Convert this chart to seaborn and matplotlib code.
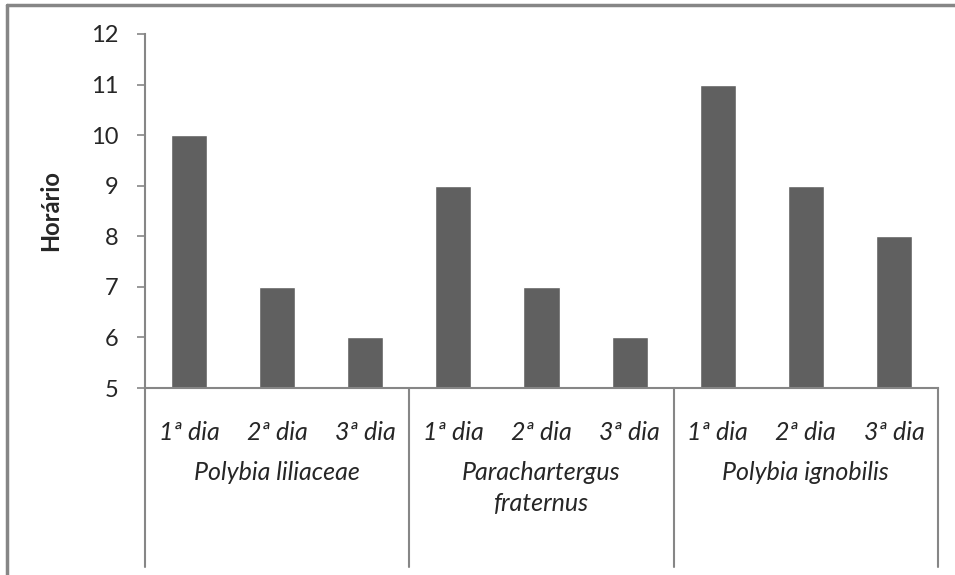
import pandas as pd
import matplotlib.pyplot as plt
import matplotlib.transforms as mtransforms
import seaborn as sns

species = ['Polybia liliaceae', 'Parachartergus\nfraternus', 'Polybia ignobilis']
days = ['1ª dia', '2ª dia', '3ª dia']
horario = [10, 7, 6, 9, 7, 6, 11, 9, 8]

rows = []
for i, sp in enumerate(species):
    for j, d in enumerate(days):
        rows.append({'key': f'{i}-{j}', 'especie': sp, 'dia': d, 'horario': horario[i * 3 + j]})
df = pd.DataFrame(rows)

sns.set_style('white')
plt.rcParams['font.family'] = ['Lato', 'DejaVu Sans']

grey = '#868686'
fig = plt.figure(figsize=(9.55, 5.75), dpi=100)
ax = fig.add_axes([0.1518, 0.3252, 0.8304, 0.6157])

sns.barplot(data=df, x='key', y='horario', color='#606060', saturation=1,
            width=0.41, ax=ax)

ax.set_ylim(5, 12)
ax.set_yticks(range(5, 13))
ax.set_xlim(-0.5, len(df) - 0.5)
ax.set_xticks(range(len(df)))
ax.set_xticklabels(df['dia'], style='italic', fontsize=18)
ax.tick_params(axis='x', length=0, pad=24)
ax.tick_params(axis='y', length=6, width=1.2, color=grey, labelsize=17, pad=13, left=True)
ax.set_xlabel('')
ax.set_ylabel('Horário', fontsize=17, fontweight='bold', labelpad=21)

for side in ['top', 'right']:
    ax.spines[side].set_visible(False)
for side in ['left', 'bottom']:
    ax.spines[side].set_color(grey)
    ax.spines[side].set_linewidth(1.5)

# group separators and group labels below the axis
trans = mtransforms.blended_transform_factory(ax.transData, ax.transAxes)
for k in range(len(species) + 1):
    xb = k * 3 - 0.5
    ax.plot([xb, xb], [0, -0.506], color=grey, lw=1.5, transform=trans, clip_on=False)
for i, sp in enumerate(species):
    ax.text(i * 3 + 1, -0.205, sp, transform=trans, ha='center', va='top',
            style='italic', fontsize=18, linespacing=1.45)

# outer chart frame (left and top edges visible)
fig.add_artist(plt.Line2D([0.0073, 0.0073], [0, 0.992], color=grey, lw=2.5, transform=fig.transFigure))
fig.add_artist(plt.Line2D([0.0073, 1], [0.992, 0.992], color=grey, lw=2.5, transform=fig.transFigure))

fig.savefig('out.png', dpi=100)
